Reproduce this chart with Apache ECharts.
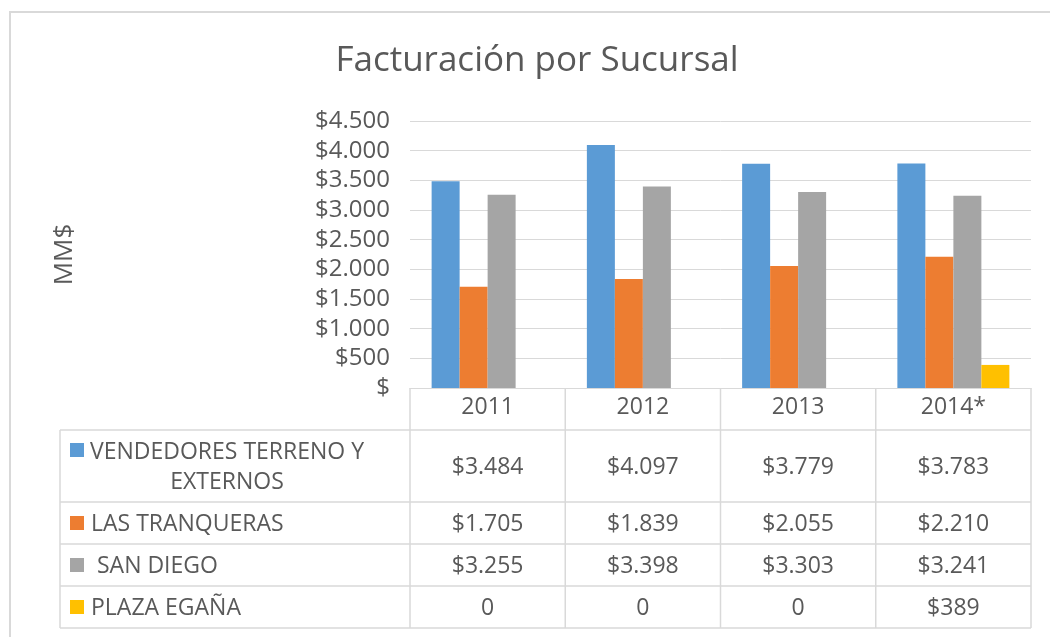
<!DOCTYPE html>
<html>
<head>
<meta charset="utf-8">
<script src="https://cdn.jsdelivr.net/npm/echarts@6/dist/echarts.min.js"></script>
<style>
html,body{margin:0;padding:0;background:#fff;}
#chart{width:1050px;height:637px;}
</style>
</head>
<body>
<div id="chart"></div>
<script>
const title = 'Facturación por Sucursal';
const yAxisName = 'MM$';
const categories = ['2011', '2012', '2013', '2014*'];
const seriesNames = ['VENDEDORES TERRENO Y\nEXTERNOS', 'LAS TRANQUERAS', ' SAN DIEGO', 'PLAZA EGAÑA'];
const vendedores = [3484, 4097, 3779, 3783];
const tranqueras = [1705, 1839, 2055, 2210];
const sanDiego = [3255, 3398, 3303, 3241];
const plazaEgana = [0, 0, 0, 389];
const yTicks = [0, 500, 1000, 1500, 2000, 2500, 3000, 3500, 4000, 4500];
const colors = ['#5B9BD5', '#ED7D31', '#A5A5A5', '#FFC000'];
const seriesData = [vendedores, tranqueras, sanDiego, plazaEgana];

const FONT = '"Open Sans", "Noto Sans", sans-serif';
const TXT = '#595959';
const LINE = '#D9D9D9';
const FS = 23;

function money(v) {
  if (v === 0) return '$';
  return '$' + String(v).replace(/\B(?=(\d{3})+(?!\d))/g, '.');
}
function cellText(v) {
  if (v === 0) return '0';
  return money(v);
}

const chart = echarts.init(document.getElementById('chart'), null, {renderer: 'canvas'});

const option = {
  animation: false,
  backgroundColor: '#fff',
  title: {
    text: title,
    left: 532,
    textAlign: 'center',
    top: 39,
    textStyle: {fontFamily: FONT, fontSize: 35, fontWeight: 'normal', color: TXT}
  },
  grid: {left: 410, right: 19, top: 121, bottom: 249, containLabel: false},
  xAxis: {
    type: 'category',
    data: categories,
    axisLine: {show: true, lineStyle: {color: LINE, width: 1}},
    axisTick: {show: false},
    axisLabel: {fontFamily: FONT, fontSize: FS, color: TXT, margin: 8}
  },
  yAxis: {
    type: 'value',
    min: yTicks[0],
    max: yTicks[yTicks.length - 1],
    interval: yTicks[1] - yTicks[0],
    name: yAxisName,
    nameLocation: 'middle',
    nameRotate: 90,
    nameGap: 332,
    nameTextStyle: {fontFamily: FONT, fontSize: 26, color: TXT},
    axisLine: {show: false},
    axisTick: {show: false},
    splitLine: {lineStyle: {color: LINE, width: 1}},
    axisLabel: {fontFamily: FONT, fontSize: 24, color: TXT, margin: 20, formatter: money}
  },
  series: seriesData.map((d, i) => ({
    type: 'bar',
    name: seriesNames[i],
    data: d,
    barWidth: 28,
    barGap: '0%',
    itemStyle: {color: colors[i]}
  }))
};
chart.setOption(option);

// Data table under the chart, positioned from the category axis scale
function buildTable() {
  const base = chart.convertToPixel({yAxisIndex: 0}, 0);
  const c0 = chart.convertToPixel({xAxisIndex: 0}, categories[0]);
  const c1 = chart.convertToPixel({xAxisIndex: 0}, categories[1]);
  const band = c1 - c0;
  const xLeft = c0 - band / 2;
  const xRight = xLeft + band * categories.length;
  const tableLeft = 60;
  const headerH = 42;
  const rowHeights = [72, 42, 42, 42];
  const els = [];
  const line = (x1, y1, x2, y2) => els.push({
    type: 'line', shape: {x1, y1, x2, y2},
    style: {stroke: LINE, lineWidth: 1.5}, silent: true
  });
  const headerBottom = base + headerH;
  let tableBottom = headerBottom + rowHeights.reduce((a, b) => a + b, 0);
  line(xLeft, base, xLeft, tableBottom);
  line(xRight, base, xRight, tableBottom);
  for (let k = 1; k < categories.length; k++) {
    const x = xLeft + band * k;
    line(x, base, x, tableBottom);
  }
  line(tableLeft, headerBottom, xRight, headerBottom);
  line(tableLeft, headerBottom, tableLeft, tableBottom);
  let y = headerBottom;
  rowHeights.forEach((h, r) => {
    const yb = y + h;
    line(tableLeft, yb, xRight, yb);
    const multi = seriesNames[r].indexOf('\n') >= 0;
    const swY = multi ? y + 13 : y + h / 2 - 7;
    els.push({type: 'rect', shape: {x: 70, y: swY, width: 14, height: 14}, style: {fill: colors[r]}, silent: true});
    els.push({
      type: 'text',
      style: {
        text: seriesNames[r],
        x: multi ? 227 : 91,
        y: y + h / 2 + 1,
        align: multi ? 'center' : 'left',
        verticalAlign: 'middle',
        lineHeight: 30,
        font: FS + 'px ' + FONT,
        fill: TXT
      },
      silent: true
    });
    categories.forEach((c, k) => {
      const cx = chart.convertToPixel({xAxisIndex: 0}, c);
      els.push({
        type: 'text',
        style: {
          text: cellText(seriesData[r][k]),
          x: cx, y: y + h / 2 + 1,
          align: 'center', verticalAlign: 'middle',
          font: FS + 'px ' + FONT, fill: TXT
        },
        silent: true
      });
    });
    y = yb;
  });
  els.push({type: 'polyline', shape: {points: [[10, 640], [10, 12], [1055, 12]]}, style: {stroke: '#D9D9D9', lineWidth: 2, fill: null}, silent: true});
  chart.setOption({graphic: {elements: els}});
}
buildTable();
</script>
</body>
</html>
